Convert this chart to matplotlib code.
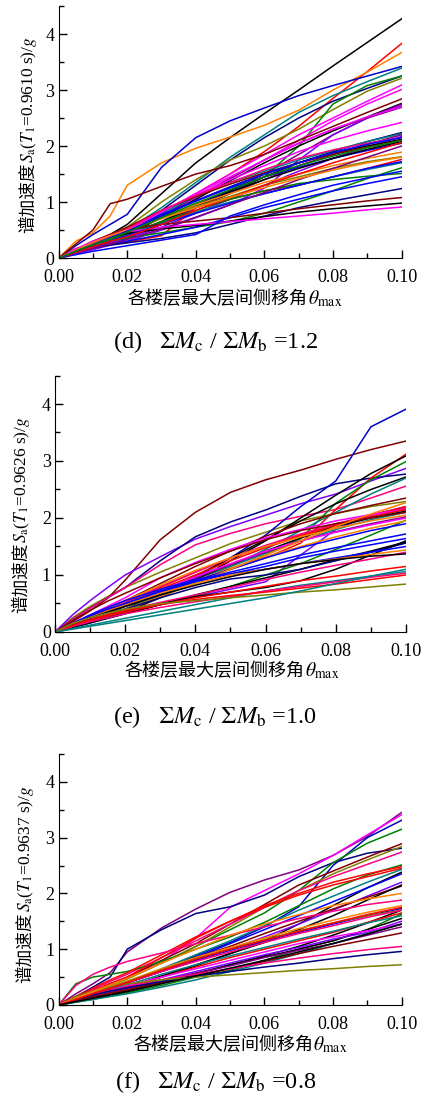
import matplotlib
matplotlib.use('Agg')
import matplotlib.pyplot as plt
from matplotlib.ticker import MultipleLocator, FormatStrFormatter

plt.rcParams['font.family'] = ['Liberation Serif', 'Noto Sans CJK SC']
plt.rcParams['mathtext.fontset'] = 'stix'

# Origin-style colour names
K, R, B, G, M = '#000000', '#FF0000', '#0000FF', '#008000', '#FF00FF'
OL, NV, VI, PU = '#808000', '#000080', '#8000FF', '#800080'
WI, TE, OR, PK, RO = '#800000', '#008080', '#FF8000', '#FF0080', '#0000C8'

# max inter-storey drift ratio (common sample points)
theta = [0, 0.005, 0.01, 0.015, 0.02, 0.03, 0.04, 0.05, 0.06, 0.07, 0.08, 0.09, 0.10]

# (d) sum Mc / sum Mb = 1.2
d_colors = [K, R, OR, RO, TE, NV, OL, G, M, M, WI, K, PU, VI, PU, M, NV, TE, PU, VI, K, WI,
            B, K, OR, OL, R, TE, G, G, B, NV, WI, K, M, B, B, PU, M, PK, R, OR, B, G]
d_sa = [
    [0, .13, .27, .42, .60, 1.15, 1.70, 2.15, 2.58, 3.00, 3.43, 3.85, 4.27],
    [0, .10, .20, .32, .45, .80, 1.15, 1.50, 1.90, 2.35, 2.85, 3.33, 3.83],
    [0, .30, .45, .75, 1.30, 1.70, 1.96, 2.16, 2.37, 2.64, 3.00, 3.32, 3.67],
    [0, .22, .42, .60, .78, 1.62, 2.15, 2.45, 2.68, 2.90, 3.08, 3.25, 3.42],
    [0, .12, .24, .36, .50, .90, 1.35, 1.80, 2.20, 2.60, 2.90, 3.15, 3.39],
    [0, .12, .24, .36, .48, .85, 1.30, 1.75, 2.15, 2.50, 2.80, 3.03, 3.25],
    [0, .12, .25, .40, .55, 1.00, 1.40, 1.75, 2.00, 2.30, 2.65, 2.98, 3.21],
    [0, .08, .16, .25, .35, .60, .90, 1.15, 1.45, 2.00, 2.75, 3.08, 3.25],
    [0, .12, .24, .36, .48, .80, 1.15, 1.50, 1.85, 2.20, 2.50, 2.80, 3.09],
    [0, .10, .20, .30, .42, .75, 1.08, 1.42, 1.75, 2.10, 2.45, 2.75, 3.01],
    [0, .25, .50, .97, 1.05, 1.28, 1.50, 1.65, 1.85, 2.10, 2.35, 2.60, 2.84],
    [0, .10, .20, .30, .42, .72, 1.05, 1.38, 1.70, 2.00, 2.27, 2.52, 2.76],
    [0, .10, .18, .27, .36, .60, .90, 1.20, 1.50, 1.85, 2.20, 2.50, 2.75],
    [0, .08, .15, .23, .30, .50, .72, .95, 1.25, 1.75, 2.20, 2.50, 2.72],
    [0, .12, .22, .33, .44, .75, 1.10, 1.42, 1.75, 2.05, 2.30, 2.50, 2.69],
    [0, .12, .25, .38, .50, .80, 1.12, 1.40, 1.65, 1.90, 2.10, 2.27, 2.42],
    [0, .10, .20, .30, .40, .65, .95, 1.20, 1.45, 1.70, 1.90, 2.08, 2.24],
    [0, .13, .26, .38, .50, .80, 1.10, 1.35, 1.55, 1.75, 1.92, 2.08, 2.22],
    [0, .10, .20, .30, .40, .62, .90, 1.15, 1.40, 1.65, 1.85, 2.03, 2.20],
    [0, .10, .18, .27, .35, .55, .80, 1.05, 1.30, 1.55, 1.78, 1.98, 2.17],
    [0, .12, .23, .35, .46, .75, 1.02, 1.27, 1.50, 1.70, 1.88, 2.00, 2.12],
    [0, .14, .28, .42, .55, .85, 1.10, 1.32, 1.52, 1.70, 1.85, 1.98, 2.10],
    [0, .13, .27, .40, .50, .78, 1.02, 1.25, 1.45, 1.62, 1.78, 1.92, 2.05],
    [0, .10, .20, .30, .40, .65, .92, 1.18, 1.40, 1.60, 1.78, 1.94, 2.08],
    [0, .15, .30, .42, .52, .72, .95, 1.15, 1.35, 1.50, 1.65, 1.78, 1.89],
    [0, .14, .27, .40, .50, .72, .92, 1.10, 1.30, 1.45, 1.60, 1.72, 1.81],
    [0, .17, .23, .26, .28, .40, .90, 1.05, 1.20, 1.30, 1.45, 1.60, 1.76],
    [0, .12, .23, .33, .42, .62, .82, 1.00, 1.15, 1.30, 1.45, 1.58, 1.70],
    [0, .13, .24, .30, .36, .45, .55, .65, .80, 1.00, 1.20, 1.42, 1.61],
    [0, .12, .24, .34, .44, .65, .85, 1.05, 1.20, 1.33, 1.40, 1.46, 1.51],
    [0, .10, .18, .25, .30, .42, .55, .72, .90, 1.05, 1.20, 1.33, 1.45],
    [0, .10, .18, .23, .27, .35, .45, .60, .75, .90, 1.02, 1.13, 1.24],
    [0, .15, .30, .42, .52, .60, .66, .72, .80, .88, .95, 1.02, 1.08],
    [0, .14, .27, .36, .44, .52, .58, .66, .74, .82, .88, .93, .98],
    [0, .16, .30, .40, .47, .55, .60, .65, .70, .75, .80, .86, .91],
    [0, .06, .12, .17, .22, .32, .42, .75, .95, 1.13, 1.30, 1.43, 1.55],
    [0, .10, .20, .30, .40, .60, .80, .98, 1.15, 1.30, 1.45, 1.60, 1.72],
    [0, .09, .17, .25, .33, .52, .73, .95, 1.17, 1.40, 1.60, 1.80, 2.00],
    [0, .12, .25, .38, .50, .82, 1.15, 1.45, 1.75, 2.05, 2.30, 2.52, 2.70],
    [0, .13, .27, .40, .52, .85, 1.12, 1.35, 1.58, 1.78, 1.93, 2.05, 2.15],
    [0, .10, .20, .30, .38, .60, .85, 1.08, 1.30, 1.50, 1.70, 1.88, 2.06],
    [0, .14, .28, .40, .50, .70, .90, 1.08, 1.26, 1.42, 1.57, 1.70, 1.80],
    [0, .12, .24, .36, .48, .75, 1.02, 1.27, 1.50, 1.70, 1.88, 2.03, 2.15],
    [0, .12, .24, .35, .46, .72, .98, 1.22, 1.45, 1.65, 1.82, 1.97, 2.10],
]

# (e) sum Mc / sum Mb = 1.0
e_colors = [OL, WI, VI, NV, PK, RO, R, G, K, K, TE, WI, VI, R, PK, M, R, K, TE, WI, OR,
            PU, M, G, OR, B, OR, B, B, K, NV, K, B, OR, PK, K, R, TE, PK, R, OL, TE]
e_sa = [
    [0, .25, .45, .62, .78, 1.05, 1.30, 1.55, 1.75, 1.95, 2.08, 2.20, 2.29],
    [0, .18, .37, .59, .91, 1.62, 2.10, 2.45, 2.67, 2.84, 3.03, 3.20, 3.35],
    [0, .30, .55, .78, 1.00, 1.32, 1.63, 1.85, 2.05, 2.25, 2.42, 2.65, 2.87],
    [0, .22, .42, .60, .78, 1.25, 1.67, 1.93, 2.14, 2.38, 2.60, 2.70, 2.77],
    [0, .22, .42, .60, .78, 1.18, 1.53, 1.73, 1.90, 2.03, 2.15, 2.35, 2.56],
    [0, .10, .20, .30, .40, .65, .95, 1.30, 1.70, 2.20, 2.65, 3.60, 3.91],
    [0, .10, .20, .30, .47, .68, .90, 1.10, 1.30, 1.56, 2.15, 2.70, 3.12],
    [0, .10, .20, .30, .45, .65, .90, 1.10, 1.35, 1.64, 2.26, 2.67, 2.99],
    [0, .08, .16, .25, .35, .60, .90, 1.25, 1.60, 2.00, 2.40, 2.78, 3.09],
    [0, .10, .20, .30, .40, .68, .98, 1.30, 1.62, 1.95, 2.25, 2.50, 2.72],
    [0, .10, .20, .30, .40, .62, .88, 1.15, 1.45, 1.78, 2.10, 2.42, 2.70],
    [0, .15, .28, .42, .55, .85, 1.15, 1.42, 1.68, 1.90, 2.08, 2.22, 2.35],
    [0, .08, .16, .24, .32, .48, .62, .75, .88, 1.35, 1.80, 2.05, 2.20],
    [0, .12, .25, .38, .50, .78, 1.05, 1.30, 1.50, 1.70, 1.88, 2.05, 2.20],
    [0, .14, .27, .40, .52, .80, 1.05, 1.30, 1.52, 1.72, 1.90, 2.05, 2.17],
    [0, .15, .30, .45, .60, .95, 1.22, 1.45, 1.65, 1.80, 1.95, 2.06, 2.15],
    [0, .12, .24, .36, .48, .75, 1.00, 1.25, 1.48, 1.68, 1.86, 2.02, 2.15],
    [0, .10, .20, .30, .40, .65, .92, 1.18, 1.42, 1.65, 1.85, 2.00, 2.12],
    [0, .10, .20, .30, .40, .65, .90, 1.15, 1.38, 1.60, 1.80, 1.97, 2.10],
    [0, .20, .38, .54, .68, .95, 1.20, 1.42, 1.62, 1.78, 1.90, 2.00, 2.10],
    [0, .15, .28, .42, .55, .82, 1.08, 1.30, 1.50, 1.67, 1.82, 1.95, 2.05],
    [0, .12, .24, .35, .46, .70, .95, 1.18, 1.40, 1.60, 1.76, 1.90, 2.02],
    [0, .12, .24, .36, .47, .72, .97, 1.20, 1.42, 1.60, 1.75, 1.88, 2.00],
    [0, .10, .18, .26, .33, .48, .63, .80, 1.00, 1.20, 1.45, 1.70, 1.96],
    [0, .12, .24, .35, .45, .68, .90, 1.12, 1.32, 1.50, 1.67, 1.82, 1.95],
    [0, .12, .24, .35, .45, .68, .90, 1.10, 1.30, 1.48, 1.63, 1.78, 1.90],
    [0, .10, .20, .30, .40, .62, .85, 1.10, 1.35, 1.60, 1.85, 2.07, 2.27],
    [0, .14, .28, .40, .50, .72, .90, 1.05, 1.20, 1.35, 1.48, 1.60, 1.72],
    [0, .12, .25, .37, .48, .70, .88, 1.02, 1.15, 1.30, 1.42, 1.53, 1.64],
    [0, .08, .16, .24, .32, .48, .65, .80, .95, 1.10, 1.27, 1.42, 1.58],
    [0, .10, .20, .30, .40, .60, .78, .93, 1.00, 1.10, 1.25, 1.40, 1.56],
    [0, .10, .20, .28, .36, .50, .62, .70, .78, .90, 1.10, 1.35, 1.60],
    [0, .15, .30, .43, .55, .75, .92, 1.02, 1.10, 1.20, 1.30, 1.40, 1.50],
    [0, .13, .25, .37, .47, .68, .85, 1.00, 1.10, 1.20, 1.28, 1.36, 1.44],
    [0, .12, .22, .30, .38, .52, .65, .78, .92, 1.05, 1.17, 1.28, 1.40],
    [0, .12, .24, .35, .45, .65, .82, .97, 1.10, 1.20, 1.27, 1.33, 1.37],
    [0, .10, .20, .28, .35, .48, .60, .70, .80, .90, .98, 1.07, 1.15],
    [0, .06, .12, .18, .24, .36, .48, .60, .72, .82, .90, .98, 1.06],
    [0, .10, .18, .25, .32, .43, .53, .62, .72, .80, .88, .96, 1.03],
    [0, .12, .22, .30, .38, .48, .57, .64, .70, .77, .84, .92, 1.00],
    [0, .15, .25, .33, .40, .50, .55, .60, .65, .70, .74, .79, .84],
    [0, .05, .10, .15, .20, .30, .40, .50, .60, .72, .85, .98, 1.10],
]

# (f) sum Mc / sum Mb = 0.8
f_colors = [PU, M, NV, RO, G, WI, OL, PK, G, R, R, TE, K, B, VI, WI, K, PK, OR, B, K, OL,
            PK, R, G, TE, K, VI, M, TE, PU, WI, PK, NV, OL, OR, R, K]
f_sa = [
    [0, .20, .38, .58, .95, 1.38, 1.72, 2.02, 2.24, 2.42, 2.68, 3.02, 3.45],
    [0, .12, .25, .38, .50, .78, 1.20, 1.75, 2.05, 2.35, 2.68, 3.05, 3.41],
    [0, .15, .32, .50, 1.00, 1.35, 1.64, 1.76, 1.97, 2.30, 2.55, 2.72, 2.81],
    [0, .10, .20, .30, .40, .62, .88, 1.12, 1.40, 1.76, 2.50, 3.00, 3.31],
    [0, .12, .23, .35, .47, .75, 1.05, 1.35, 1.65, 2.05, 2.55, 2.90, 3.15],
    [0, .12, .25, .38, .50, .80, 1.10, 1.45, 1.80, 2.15, 2.40, 2.65, 2.89],
    [0, .12, .23, .35, .47, .75, 1.05, 1.40, 1.75, 2.05, 2.35, 2.60, 2.84],
    [0, .14, .28, .42, .55, .85, 1.15, 1.45, 1.75, 2.05, 2.30, 2.52, 2.74],
    [0, .38, .50, .55, .60, .78, 1.00, 1.22, 1.48, 1.78, 2.08, 2.33, 2.51],
    [0, .15, .30, .45, .58, .90, 1.22, 1.50, 1.75, 1.97, 2.15, 2.30, 2.45],
    [0, .12, .25, .38, .50, .85, 1.20, 1.50, 1.78, 2.00, 2.20, 2.35, 2.48],
    [0, .10, .20, .30, .40, .65, .90, 1.15, 1.42, 1.70, 1.95, 2.20, 2.43],
    [0, .08, .16, .24, .32, .50, .70, .92, 1.15, 1.45, 1.78, 2.10, 2.38],
    [0, .10, .20, .30, .40, .62, .85, 1.10, 1.35, 1.60, 1.85, 2.10, 2.35],
    [0, .10, .20, .30, .40, .60, .80, 1.00, 1.22, 1.45, 1.70, 1.95, 2.20],
    [0, .10, .20, .30, .40, .62, .85, 1.05, 1.28, 1.50, 1.72, 1.93, 2.13],
    [0, .08, .16, .24, .32, .52, .72, .92, 1.12, 1.35, 1.60, 1.88, 2.15],
    [0, .35, .55, .68, .78, .93, 1.10, 1.25, 1.40, 1.55, 1.68, 1.80, 1.88],
    [0, .12, .23, .33, .43, .65, .85, 1.03, 1.20, 1.37, 1.52, 1.66, 1.78],
    [0, .10, .20, .30, .40, .60, .80, .98, 1.15, 1.30, 1.45, 1.60, 1.73],
    [0, .06, .12, .18, .25, .40, .55, .72, .88, 1.05, 1.25, 1.47, 1.70],
    [0, .12, .22, .32, .42, .63, .83, 1.00, 1.17, 1.33, 1.47, 1.60, 1.70],
    [0, .10, .20, .30, .40, .60, .78, .95, 1.12, 1.28, 1.42, 1.57, 1.70],
    [0, .08, .16, .24, .32, .50, .68, .85, 1.00, 1.15, 1.30, 1.48, 1.65],
    [0, .05, .10, .16, .22, .35, .50, .62, .80, 1.00, 1.15, 1.35, 1.63],
    [0, .10, .20, .28, .36, .55, .72, .88, 1.03, 1.18, 1.32, 1.47, 1.60],
    [0, .07, .14, .20, .27, .42, .57, .72, .86, 1.00, 1.15, 1.35, 1.55],
    [0, .08, .16, .23, .30, .45, .60, .75, .90, 1.03, 1.18, 1.30, 1.50],
    [0, .10, .18, .26, .34, .50, .65, .80, .95, 1.10, 1.22, 1.33, 1.45],
    [0, .05, .10, .15, .20, .32, .45, .60, .75, .92, 1.10, 1.28, 1.45],
    [0, .08, .15, .22, .29, .43, .57, .70, .85, .98, 1.10, 1.25, 1.40],
    [0, .08, .15, .21, .27, .40, .52, .65, .78, .92, 1.05, 1.17, 1.29],
    [0, .12, .20, .27, .33, .45, .55, .65, .75, .84, .92, .99, 1.05],
    [0, .10, .18, .25, .31, .42, .52, .60, .68, .75, .83, .90, .96],
    [0, .15, .25, .32, .38, .45, .50, .54, .58, .62, .65, .69, .72],
    [0, .12, .24, .36, .48, .75, 1.00, 1.25, 1.45, 1.62, 1.78, 1.90, 2.00],
    [0, .10, .20, .30, .40, .62, .82, 1.00, 1.16, 1.32, 1.47, 1.62, 1.75],
    [0, .06, .12, .18, .24, .38, .52, .66, .80, .95, 1.10, 1.27, 1.45],
]

fig = plt.figure(figsize=(4.23, 10.97), dpi=100)


def panel(rect, colors, curves, period, tag, ratio, ylab, xlab, cap):
    ax = fig.add_axes(rect)
    for c, sa in zip(colors, curves):
        ax.plot(theta, sa, color=c, lw=1.1)
    ax.set_xlim(0, 0.1)
    ax.set_ylim(0, 4.5)
    for s in ['top', 'right']:
        ax.spines[s].set_visible(False)
    ax.xaxis.set_major_locator(MultipleLocator(0.02))
    ax.xaxis.set_minor_locator(MultipleLocator(0.01))
    ax.xaxis.set_major_formatter(FormatStrFormatter('%.2f'))
    ax.yaxis.set_major_locator(MultipleLocator(1))
    ax.yaxis.set_minor_locator(MultipleLocator(0.5))
    ax.tick_params(which='both', direction='in', labelsize=13, width=1)
    ax.tick_params(which='major', length=6)
    ax.tick_params(which='minor', length=3.5)
    ax.tick_params(axis='x', pad=8)
    ax.tick_params(axis='y', pad=3)

    # y label: CJK part + math part stacked upward
    t1 = fig.text(ylab[0], ylab[1], '谱加速度', rotation=90, rotation_mode='anchor',
                  ha='left', va='baseline', fontsize=12.7, family='Noto Sans CJK SC')
    fig.add_artist(plt.Annotation(r'$S_{\rm a}$($T_{\rm 1}$=' + period + ' s)/$g$',
                                  xy=(ylab[0], 1.0), xycoords=('figure fraction', t1),
                                  rotation=90, rotation_mode='anchor', ha='left',
                                  va='baseline', fontsize=12.5))
    # x label
    t2 = fig.text(xlab[0], xlab[1], '各楼层最大层间侧移角', ha='left', va='baseline',
                  fontsize=13, family='Noto Sans CJK SC')
    fig.add_artist(plt.Annotation(r'$\theta_{\rm max}$', xy=(1.0, xlab[1]),
                                  xycoords=(t2, 'figure fraction'), ha='left',
                                  va='baseline', fontsize=14))
    # caption
    fig.text(cap[0], cap[1], tag + r'   $\Sigma M_{\rm c}$ / $\Sigma M_{\rm b}$ =' + ratio,
             ha='left', va='baseline', fontsize=17.5)
    return ax


panel([0.1388, 0.7648, 0.8105, 0.2297], d_colors, d_sa, '0.9610', '(d)', '1.2',
      (0.0770, 0.7876), (0.3026, 0.7229), (0.268, 0.6828))
panel([0.1300, 0.4239, 0.8298, 0.2338], e_colors, e_sa, '0.9626', '(e)', '1.0',
      (0.0610, 0.4409), (0.2955, 0.3838), (0.268, 0.3406))
panel([0.1388, 0.0839, 0.8105, 0.2288], f_colors, f_sa, '0.9637', '(f)', '0.8',
      (0.0700, 0.1042), (0.3152, 0.0428), (0.272, 0.0079))

fig.savefig('out.png', dpi=100)
